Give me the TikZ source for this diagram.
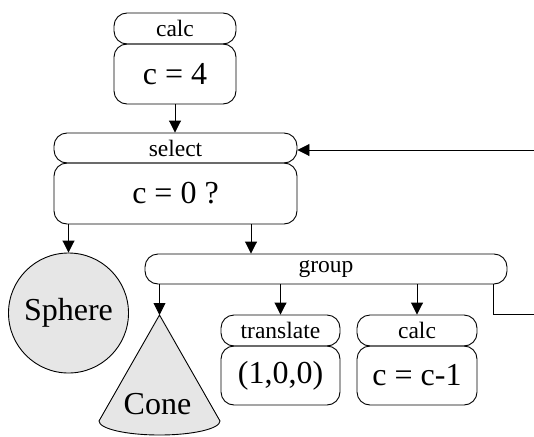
\documentclass[tikz,border=0pt]{standalone}
\usepackage{fontspec}
\setmainfont{Liberation Serif}
\usetikzlibrary{arrows.meta,calc}
\definecolor{shapefill}{RGB}{230,230,230}
\begin{document}
\begin{tikzpicture}[x=1pt,y=-1pt,
  line width=0.9pt,
  hdr/.style={draw, rounded corners=13pt, inner sep=0pt, minimum height=30pt, font=\fontsize{23.5}{25}\selectfont},
  bodybox/.style={draw, rounded corners=13pt, inner sep=0pt, font=\fontsize{32}{34}\selectfont},
  arr/.style={-{Triangle[length=12pt,width=12pt]}},
  solid3d/.style={draw, fill=shapefill}
]
\useasboundingbox (0,0) rectangle (534,436);

% top calc
\node[hdr, minimum width=122pt, minimum height=31pt] (calcAh) at (175,28.5) {calc};
\node[bodybox, minimum width=122pt, minimum height=60pt] (calcAb) at (175,74) {c = 4};

% select
\node[hdr, minimum width=243pt] (selh) at (175.5,148) {select};
\node[bodybox, minimum width=243pt, minimum height=61pt] (selb) at (175.5,193.5) {c = 0 ?};

% group
\node[hdr, minimum width=362pt] (grp) at (326,269) {group};

% translate
\node[hdr, minimum width=119pt, minimum height=31pt] (trh) at (280.5,330.5) {translate};
\node[bodybox, minimum width=119pt, minimum height=59pt] (trb) at (280.5,375.5) {(1,0,0)};

% calc 2
\node[hdr, minimum width=120pt, minimum height=31pt] (calcBh) at (417,330.5) {calc};
\node[bodybox, minimum width=120pt, minimum height=59pt] (calcBb) at (417,375.5) {c = c-1};

% sphere
\node[solid3d, circle, minimum size=120pt, inner sep=0pt, font=\fontsize{32}{34}\selectfont] (sphere) at (68.5,313) {Sphere};

% cone
\coordinate (coneapex) at (159.5,315);
\draw[solid3d] (coneapex) -- (99,421) arc[start angle=180, end angle=360, x radius=60.5pt, y radius=14pt] -- cycle;
\node[font=\fontsize{32}{34}\selectfont, inner sep=0pt] (conelbl) at (157.5,404) {Cone};

% connectors
\draw[arr] (calcAb.south) -- (calcAb.south |- selh.north);
\draw[arr] (selb.south -| sphere.north) -- (sphere.north);
\draw[arr] ([xshift=75.5pt]selb.south) -- ([xshift=75.5pt]selb.south |- grp.north);
\draw[arr] (grp.south -| coneapex) -- (coneapex);
\draw[arr] (grp.south -| trh.north) -- (trh.north);
\draw[arr] (grp.south -| calcBh.north) -- (calcBh.north);

% feedback loop
\coordinate (fbout) at (534,314);
\coordinate (fbin) at (534,150);
\draw ([xshift=-14pt]grp.south east) |- (fbout);
\draw[arr] (fbin) -- (fbin -| selh.east);
\end{tikzpicture}
\end{document}
